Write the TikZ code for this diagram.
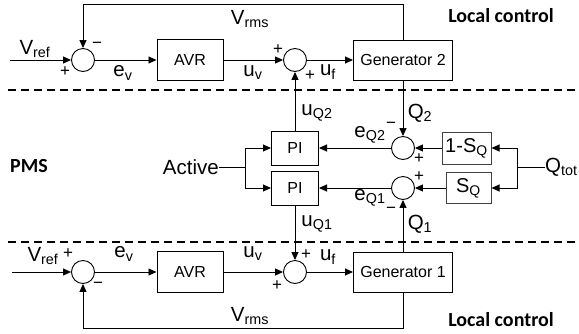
\documentclass[tikz,border=0pt]{standalone}
\usepackage{fontspec}
\setmainfont{Liberation Sans}
\newfontfamily\calibrifont{Carlito}
\usetikzlibrary{arrows.meta, positioning, calc}

\tikzset{
  block/.style={draw, line width=1pt, minimum width=66pt, minimum height=41pt, inner sep=1pt, font=\fontsize{16}{18}\selectfont},
  share/.style={block, draw=black!75, font=\fontsize{20}{22}\selectfont},
  sumnode/.style={draw, circle, line width=0.9pt, minimum size=23pt, inner sep=0pt},
  sig/.style={inner sep=0pt, font=\fontsize{20.5}{23}\selectfont},
  sgn/.style={inner sep=0pt, font=\fontsize{17}{17}\selectfont},
  region/.style={inner sep=0pt, font=\calibrifont\bfseries\fontsize{20}{22}\selectfont},
  wire/.style={line width=0.9pt},
  sep/.style={line width=1.5pt, dash pattern=on 8pt off 5pt},
}

\begin{document}
\begin{tikzpicture}[x=1pt, y=-1pt, >={Triangle[length=8pt,width=7pt]}]
    \useasboundingbox (0,0) rectangle (579,333);

    % separators
    \draw[sep] (8,90) -- (576,90);
    \draw[sep] (8,242) -- (576,242);

    % generator 2 loop
    \node[sumnode] (sT1) at (83,60) {};
    \node[block] (avrT) at (190,60) {AVR};
    \node[sumnode] (sT2) at (295,60) {};
    \node[block, minimum width=99pt, minimum height=40pt] (genT) at (403,60) {Generator 2};
    \coordinate (inT) at (10,60);
    \coordinate (fbT) at (83,4);

    % PMS
    \node[block, minimum width=47pt, minimum height=34pt] (pi2) at (295,148) {PI};
    \node[block, minimum width=47pt, minimum height=34pt] (pi1) at (295,188) {PI};
    \node[sumnode] (s3) at (403,148) {};
    \node[sumnode] (s4) at (403,188) {};
    \node[share, minimum width=49pt, minimum height=32pt] (sq2) at (466.5,148) {1-S\textsubscript{Q}};
    \node[share, minimum width=45pt, minimum height=31pt] (sq1) at (468.5,188) {S\textsubscript{Q}};
    \node[sig, anchor=west] (qtot) at (545,167) {Q\textsubscript{tot}};
    \coordinate (qb) at (517,167);
    \node[sig, anchor=east] (act) at (219,167) {Active};
    \coordinate (ab) at (245,167);

    % generator 1 loop
    \node[sumnode] (sB1) at (83,272) {};
    \node[block] (avrB) at (190,272) {AVR};
    \node[sumnode] (sB2) at (295,272) {};
    \node[block, minimum width=99pt, minimum height=40pt] (genB) at (403,272) {Generator 1};
    \coordinate (inB) at (12,272);
    \coordinate (fbB) at (83,328);

    % connectors
    \begin{scope}[wire, ->]
        \draw (inT) -- (sT1.west);
        \draw (genT.north) |- (fbT) -- (sT1.north);
        \draw (sT1.east) -- (avrT.west);
        \draw (avrT.east) -- (sT2.west);
        \draw (sT2.east) -- (genT.west);
        \draw (pi2.north) -- (sT2.south);
        \draw (genT.south) -- (s3.north);
        \draw (s3.west) -- (pi2.east);
        \draw (s4.west) -- (pi1.east);
        \draw (sq2.west) -- (s3.east);
        \draw (sq1.west) -- (s4.east);
        \draw (qb) |- (sq2.east);
        \draw (qb) |- (sq1.east);
        \draw (ab) |- (pi2.west);
        \draw (ab) |- (pi1.west);
        \draw (genB.north) -- (s4.south);
        \draw (pi1.south) -- (sB2.north);
        \draw (inB) -- (sB1.west);
        \draw (sB1.east) -- (avrB.west);
        \draw (avrB.east) -- (sB2.west);
        \draw (sB2.east) -- (genB.west);
        \draw (genB.south) |- (fbB) -- (sB1.south);
    \end{scope}
    \draw[wire] (act.east) -- (ab);
    \draw[wire] (qtot.west) -- (qb);

    % signal labels
    \node[sig] at (35,49) {V\textsubscript{ref}};
    \node[sig] at (123,73) {e\textsubscript{v}};
    \node[sig] at (253,73) {u\textsubscript{v}};
    \node[sig] at (328,72) {u\textsubscript{f}};
    \node[sig] at (250,19) {V\textsubscript{rms}};
    \node[sig] at (317,113) {u\textsubscript{Q2}};
    \node[sig] at (420,113) {Q\textsubscript{2}};
    \node[sig] at (370,135) {e\textsubscript{Q2}};
    \node[sig] at (370,198) {e\textsubscript{Q1}};
    \node[sig] at (317,224) {u\textsubscript{Q1}};
    \node[sig] at (420,224) {Q\textsubscript{1}};
    \node[sig] at (43,256) {V\textsubscript{ref}};
    \node[sig] at (124,254) {e\textsubscript{v}};
    \node[sig] at (253,254) {u\textsubscript{v}};
    \node[sig] at (328,257) {u\textsubscript{f}};
    \node[sig] at (250,316) {V\textsubscript{rms}};

    % signs
    \node[sgn] at (97,45) {−};
    \node[sgn] at (65,72) {+};
    \node[sgn] at (278,50) {+};
    \node[sgn] at (310,76) {+};
    \node[sgn] at (391,125) {−};
    \node[sgn] at (419,159) {+};
    \node[sgn] at (419,177) {+};
    \node[sgn] at (391,210) {−};
    \node[sgn] at (68,254) {+};
    \node[sgn] at (98,285) {−};
    \node[sgn] at (277,286) {+};
    \node[sgn] at (306,255) {+};

    % regions
    \node[region] at (501,16) {Local control};
    \node[region] at (501,320) {Local control};
    \node[region] at (29,166) {PMS};
\end{tikzpicture}
\end{document}
